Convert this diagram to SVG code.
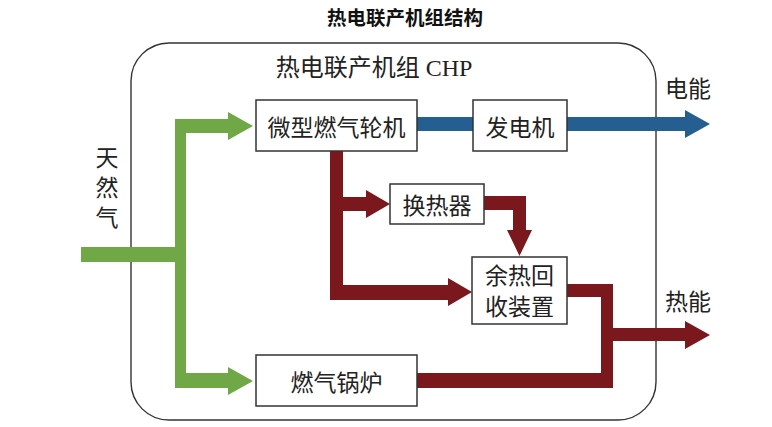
<svg xmlns="http://www.w3.org/2000/svg" width="772" height="427" viewBox="0 0 772 427">
<style>
.t{font-family:"Noto Sans CJK SC","Liberation Sans",sans-serif;font-size:23px;fill:#222;text-anchor:middle;dominant-baseline:central}
.box{fill:#fff;stroke:#333;stroke-width:1.5}
.g{fill:#70a847}
.b{fill:#255e91}
.r{fill:#7a181e}
</style>
<rect width="772" height="427" fill="#fff"/>
<text x="405" y="18" style="font-family:'Liberation Serif','Noto Sans CJK SC',serif;font-size:19.5px;font-weight:bold;fill:#111;text-anchor:middle;dominant-baseline:central">热电联产机组结构</text>
<g id="chp-frame">
<rect x="131" y="43" width="525" height="377" rx="38" ry="38" fill="none" stroke="#333" stroke-width="1.4"/>
<text x="374" y="68" class="t" style="font-family:'Liberation Serif','Noto Sans CJK SC',serif;font-size:24px">热电联产机组 CHP</text>
</g>
<g id="connectors">
<polygon class="g" points="81,247 175,247 175,119 228,119 228,112 253,126 228,140 228,133 186,133 186,373 228,373 228,367 253,381 228,395 228,388 175,388 175,262 81,262"/>
<rect class="b" x="416" y="117" width="57" height="14"/>
<polygon class="b" points="566,117 685,117 685,110 710,124 685,138 685,131 566,131"/>
<polygon class="r" points="330,150 343,150 343,197 366,197 366,190 390,204 366,218 366,211 343,211 343,285 448,285 448,278 472,292 448,306 448,300 330,300"/>
<polygon class="r" points="483,196 526,196 526,230 532,230 519.5,256 507,230 513,230 513,210 483,210"/>
<polygon class="r" points="566,284 613,284 613,328 685,328 685,321 710,335 685,349 685,341 613,341 613,388 416,388 416,373 601,373 601,297 566,297"/>
</g>
<g id="natural-gas">
<text x="107" y="146" class="t" writing-mode="vertical-rl" letter-spacing="7" style="text-anchor:start">天然气</text>
</g>
<g id="micro-turbine">
<rect class="box" x="256" y="100" width="161" height="51"/>
<text x="336.5" y="125.5" class="t">微型燃气轮机</text>
</g>
<g id="generator">
<rect class="box" x="473" y="100" width="94" height="51"/>
<text x="520" y="125.5" class="t">发电机</text>
</g>
<g id="heat-exchanger">
<rect class="box" x="390" y="184" width="94" height="40"/>
<text x="437" y="204" class="t">换热器</text>
</g>
<g id="heat-recovery">
<rect class="box" x="472" y="257" width="95" height="67"/>
<text x="519.5" y="274" class="t">余热回</text>
<text x="519.5" y="305" class="t">收装置</text>
</g>
<g id="gas-boiler">
<rect class="box" x="256" y="355" width="161" height="51"/>
<text x="336.5" y="380.5" class="t">燃气锅炉</text>
</g>
<g id="electric-energy">
<text x="688" y="87" class="t">电能</text>
</g>
<g id="heat-energy">
<text x="688" y="300" class="t">热能</text>
</g>
</svg>
